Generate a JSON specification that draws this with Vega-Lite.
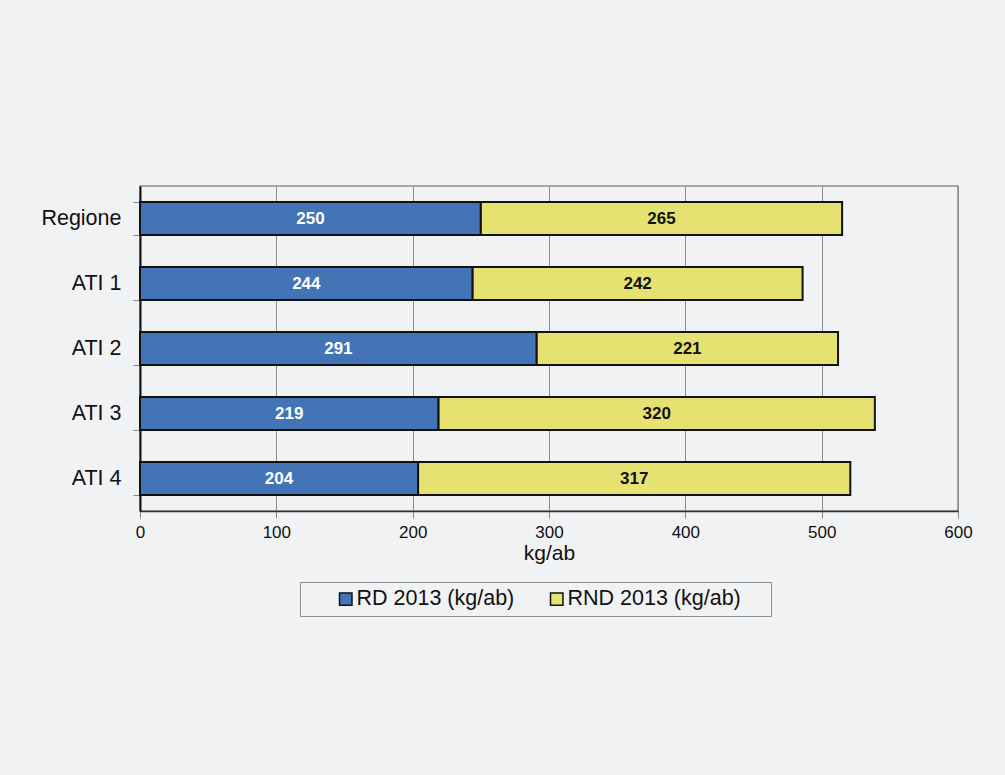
{
  "$schema": "https://vega.github.io/schema/vega-lite/v6.json",
  "width": 818,
  "height": 325,
  "autosize": {"type": "none"},
  "padding": {"left": 140, "top": 186, "right": 47, "bottom": 264},
  "background": "#f1f2f4",
  "config": {
    "font": "Liberation Sans",
    "view": {"stroke": "#8c8c8c", "strokeWidth": 1.5}
  },
  "data": {
    "values": [
      {"cat": "Regione", "series": "RD 2013 (kg/ab)", "value": 250},
      {"cat": "Regione", "series": "RND 2013 (kg/ab)", "value": 265},
      {"cat": "ATI 1", "series": "RD 2013 (kg/ab)", "value": 244},
      {"cat": "ATI 1", "series": "RND 2013 (kg/ab)", "value": 242},
      {"cat": "ATI 2", "series": "RD 2013 (kg/ab)", "value": 291},
      {"cat": "ATI 2", "series": "RND 2013 (kg/ab)", "value": 221},
      {"cat": "ATI 3", "series": "RD 2013 (kg/ab)", "value": 219},
      {"cat": "ATI 3", "series": "RND 2013 (kg/ab)", "value": 320},
      {"cat": "ATI 4", "series": "RD 2013 (kg/ab)", "value": 204},
      {"cat": "ATI 4", "series": "RND 2013 (kg/ab)", "value": 317}
    ]
  },
  "transform": [
    {"stack": "value", "groupby": ["cat"], "sort": [{"field": "series", "order": "ascending"}], "as": ["x0", "x1"]},
    {"calculate": "(datum.x0 + datum.x1) / 2", "as": "xmid"}
  ],
  "encoding": {
    "y": {
      "field": "cat",
      "type": "nominal",
      "sort": ["Regione", "ATI 1", "ATI 2", "ATI 3", "ATI 4"],
      "scale": {"paddingInner": 0.49, "paddingOuter": 0.245},
      "axis": {
        "title": null,
        "labelFontSize": 21.5,
        "labelColor": "#111",
        "labelPadding": 12,
        "tickBand": "extent",
        "tickSize": 7,
        "tickColor": "#888",
        "domainColor": "#111",
        "domainWidth": 2,
        "grid": false
      }
    }
  },
  "layer": [
    {
      "mark": {"type": "bar", "stroke": "#111", "strokeWidth": 2},
      "encoding": {
        "x": {
          "field": "x0",
          "type": "quantitative",
          "scale": {"domain": [0, 600], "nice": false},
          "axis": {
            "values": [0, 100, 200, 300, 400, 500, 600],
            "title": "kg/ab",
            "titleFontSize": 21,
            "titleFontWeight": "normal",
            "titleColor": "#111",
            "titlePadding": 2,
            "labelFontSize": 17,
            "labelColor": "#111",
            "labelPadding": 6,
            "labelFlush": false,
            "tickSize": 7,
            "tickColor": "#888",
            "domainColor": "#333",
            "domainWidth": 1.5,
            "grid": true,
            "gridColor": "#8c8c8c",
            "gridWidth": 1
          }
        },
        "x2": {"field": "x1"},
        "color": {
          "field": "series",
          "type": "nominal",
          "scale": {"domain": ["RD 2013 (kg/ab)", "RND 2013 (kg/ab)"], "range": ["#4375b6", "#e6e271"]},
          "legend": {
            "title": null,
            "orient": "none",
            "legendX": 160,
            "legendY": 396,
            "direction": "horizontal",
            "symbolType": "square",
            "symbolSize": 156,
            "symbolStrokeColor": "#111",
            "symbolStrokeWidth": 1.5,
            "symbolOffset": 29,
            "labelFontSize": 21.5,
            "labelColor": "#111",
            "labelOffset": 0,
            "labelLimit": 0,
            "labelExpr": "datum.label == 'RND 2013 (kg/ab)' ? datum.label + '\u00a0\u00a0\u00a0\u00a0\u200b' : datum.label",
            "columnPadding": 2,
            "padding": 6,
            "fillColor": "#f1f2f4",
            "strokeColor": "#8c8c8c"
          }
        }
      }
    },
    {
      "mark": {"type": "text", "fontSize": 17, "fontWeight": "bold", "baseline": "middle"},
      "encoding": {
        "x": {"field": "xmid", "type": "quantitative"},
        "text": {"field": "value", "type": "quantitative"},
        "color": {
          "condition": {"test": "datum.series === 'RD 2013 (kg/ab)'", "value": "#ffffff"},
          "value": "#111111"
        }
      }
    }
  ]
}
